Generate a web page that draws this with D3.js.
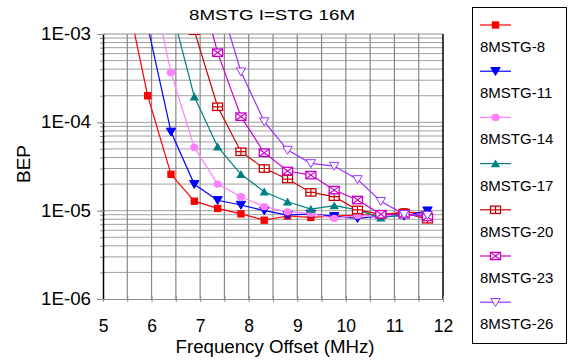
<!DOCTYPE html>
<html>
<head>
<meta charset="utf-8">
<script src="https://cdn.jsdelivr.net/npm/d3@7"></script>
<style>
  body { margin: 0; background: #fff; }
  text { font-family: "Liberation Sans", Arial, sans-serif; }
</style>
</head>
<body>
<div id="chart"></div>
<script>
// frequency offsets (MHz) of the measurement points
const freqs = [5.44, 5.92, 6.40, 6.88, 7.36, 7.84, 8.32, 8.80, 9.28, 9.76, 10.24, 10.72, 11.20, 11.68];

const stg8  = [3.6e-3, 2.0e-4, 2.58e-5, 1.28e-5, 1.06e-5, 9.2e-6, 7.8e-6, 8.7e-6, 8.4e-6, 8.7e-6, 8.9e-6, 8.9e-6, 9.7e-6, 9.3e-6];
const stg11 = [null, 1.23e-3, 7.8e-5, 1.99e-5, 1.31e-5, 1.16e-5, 1.0e-5, 8.9e-6, 9.2e-6, 8.6e-6, 8.2e-6, 8.7e-6, 8.7e-6, 1.0e-5];
const stg14 = [null, 6.2e-3, 3.65e-4, 5.2e-5, 2.0e-5, 1.44e-5, 1.11e-5, 9.7e-6, 9.3e-6, 8.2e-6, 8.8e-6, 8.7e-6, 9.1e-6, 8.9e-6];
const stg17 = [null, null, 2.04e-3, 1.95e-4, 5.3e-5, 2.58e-5, 1.64e-5, 1.26e-5, 1.04e-5, 1.14e-5, 1.02e-5, 8.3e-6, 9.1e-6, 8.7e-6];
const stg20 = [null, null, null, 1.09e-3, 1.5e-4, 4.65e-5, 3.0e-5, 2.28e-5, 1.61e-5, 1.44e-5, 1.02e-5, 9.1e-6, 9.4e-6, 8.0e-6];
const stg23 = [null, null, null, 5.97e-3, 6.15e-4, 1.16e-4, 4.53e-5, 2.81e-5, 2.53e-5, 1.71e-5, 1.32e-5, 9.1e-6, 9.1e-6, 8.5e-6];
const stg26 = [null, null, null, null, 2.84e-3, 3.74e-4, 1.02e-4, 4.86e-5, 3.43e-5, 3.2e-5, 2.26e-5, 1.28e-5, 9.1e-6, 8.9e-6];

const seriesNames = ["8MSTG-8", "8MSTG-11", "8MSTG-14", "8MSTG-17", "8MSTG-20", "8MSTG-23", "8MSTG-26"];
const seriesValues = [stg8, stg11, stg14, stg17, stg20, stg23, stg26];

const xTicks = [5, 6, 7, 8, 9, 10, 11, 12];
const yTickValues = [1e-6, 1e-5, 1e-4, 1e-3];
const yTickLabels = ["1E-06", "1E-05", "1E-04", "1E-03"];

const colors = ["#ff0000", "#0000ff", "#ff80ff", "#008080", "#cc0000", "#cc00cc", "#9933ff"];
const shapes = ["square", "down", "circle", "up", "boxplus", "boxx", "opendown"];

const W = 568, H = 360;
const plot = {left: 103, right: 443, top: 34, bottom: 299};

const svg = d3.select("#chart").append("svg")
  .attr("width", W)
  .attr("height", H);

const x = d3.scaleLinear().domain([5, 12]).range([plot.left, plot.right]);
const y = d3.scaleLog().domain([1e-6, 1e-3]).range([plot.bottom, plot.top]);

// grid
const grid = svg.append("g");
grid.selectAll("line.h")
  .data(y.ticks().filter(d => d > 1e-6 && d < 1e-3))
  .join("line")
  .attr("x1", plot.left).attr("x2", plot.right)
  .attr("y1", d => y(d)).attr("y2", d => y(d))
  .attr("stroke", "#a0a0a0").attr("stroke-width", 1);
grid.selectAll("line.v")
  .data(d3.range(5.5, 12, 0.5))
  .join("line")
  .attr("x1", d => x(d)).attr("x2", d => x(d))
  .attr("y1", plot.top).attr("y2", plot.bottom)
  .attr("stroke", "#888").attr("stroke-width", 1.2);

// top & right borders
svg.append("line").attr("x1", plot.left).attr("x2", plot.right)
  .attr("y1", plot.top).attr("y2", plot.top).attr("stroke", "#8c8c8c");
svg.append("line").attr("x1", plot.right).attr("x2", plot.right)
  .attr("y1", plot.top).attr("y2", plot.bottom).attr("stroke", "#000").attr("stroke-width", 1.5);

// bottom axis
const xAxis = svg.append("g")
  .attr("transform", `translate(0,${plot.bottom})`)
  .call(d3.axisBottom(x)
    .tickValues(d3.range(5, 12.01, 0.5))
    .tickSize(3)
    .tickFormat(d => xTicks.includes(d) ? d : ""));
xAxis.select(".domain").attr("stroke", "#8c8c8c");
xAxis.selectAll(".tick line").attr("y1", -3).attr("y2", 3).attr("stroke", "#8c8c8c");
xAxis.selectAll(".tick text")
  .attr("y", 21)
  .style("font-size", "17.5px")
  .attr("fill", "#000");

// left axis: minor ticks then major ticks with labels
const yMinor = svg.append("g")
  .attr("transform", `translate(${plot.left},0)`)
  .call(d3.axisLeft(y).tickValues(y.ticks()).tickSize(3).tickFormat(""));
yMinor.select(".domain").remove();
yMinor.selectAll(".tick line").attr("x2", -3).attr("x1", 2).attr("stroke", "#8c8c8c");

const yAxis = svg.append("g")
  .attr("transform", `translate(${plot.left},0)`)
  .call(d3.axisLeft(y)
    .tickValues(yTickValues)
    .tickSize(6)
    .tickSizeOuter(0)
    .tickFormat((d, i) => yTickLabels[i]));
yAxis.select(".domain").attr("stroke", "#000").attr("stroke-width", 1.5);
yAxis.selectAll(".tick line").attr("stroke", "#8c8c8c").attr("x1", 2);
yAxis.selectAll(".tick text")
  .attr("x", -12)
  .style("font-size", "17.5px")
  .attr("textLength", 50)
  .attr("lengthAdjust", "spacingAndGlyphs")
  .attr("fill", "#000");

// clip for data
svg.append("clipPath").attr("id", "clip")
  .append("rect")
  .attr("x", plot.left).attr("y", plot.top)
  .attr("width", plot.right - plot.left).attr("height", plot.bottom - plot.top);

function drawMarker(g, shape, color, cx, cy) {
  const s = 3.7;
  if (shape === "square") {
    g.append("rect").attr("x", cx - s).attr("y", cy - s).attr("width", 2 * s).attr("height", 2 * s).attr("fill", color);
  } else if (shape === "circle") {
    g.append("ellipse").attr("cx", cx).attr("cy", cy).attr("rx", 4.2).attr("ry", 3.6).attr("fill", color);
  } else if (shape === "down" || shape === "opendown") {
    const p = [[cx - 4.7, cy - 3.7], [cx + 4.7, cy - 3.7], [cx, cy + 4.2]];
    g.append("path").attr("d", "M" + p.join("L") + "Z")
      .attr("fill", shape === "down" ? color : "#fff")
      .attr("stroke", color).attr("stroke-width", 1);
  } else if (shape === "up") {
    const p = [[cx - 4.7, cy + 3.7], [cx + 4.7, cy + 3.7], [cx, cy - 4.2]];
    g.append("path").attr("d", "M" + p.join("L") + "Z").attr("fill", color);
  } else if (shape === "boxplus" || shape === "boxx") {
    const w = 5, h = 3.7;
    g.append("rect").attr("x", cx - w).attr("y", cy - h).attr("width", 2 * w).attr("height", 2 * h)
      .attr("fill", "#fff").attr("stroke", color).attr("stroke-width", 1.3);
    const d = shape === "boxplus"
      ? `M${cx - w},${cy}H${cx + w}M${cx},${cy - h}V${cy + h}`
      : `M${cx - w},${cy - h}L${cx + w},${cy + h}M${cx - w},${cy + h}L${cx + w},${cy - h}`;
    g.append("path").attr("d", d).attr("stroke", color).attr("stroke-width", 1.2).attr("fill", "none");
  }
}

const dataG = svg.append("g").attr("clip-path", "url(#clip)");
const line = d3.line()
  .defined(d => d[1] != null)
  .x(d => x(d[0]))
  .y(d => y(d[1]));

seriesValues.forEach((vals, i) => {
  const pts = freqs.map((f, j) => [f, vals[j]]);
  dataG.append("path")
    .datum(pts)
    .attr("d", line)
    .attr("fill", "none")
    .attr("stroke", colors[i])
    .attr("stroke-width", 1.2);
});
seriesValues.forEach((vals, i) => {
  const g = dataG.append("g");
  freqs.forEach((f, j) => {
    if (vals[j] != null) drawMarker(g, shapes[i], colors[i], x(f), y(vals[j]));
  });
});

// title and axis titles
svg.append("text")
  .attr("x", 272).attr("y", 20)
  .attr("text-anchor", "middle")
  .style("font-size", "15px")
  .attr("textLength", 166)
  .attr("lengthAdjust", "spacingAndGlyphs")
  .text("8MSTG I=STG 16M");

svg.append("text")
  .attr("x", 275).attr("y", 353)
  .attr("text-anchor", "middle")
  .style("font-size", "17.5px")
  .attr("textLength", 199)
  .attr("lengthAdjust", "spacingAndGlyphs")
  .text("Frequency Offset (MHz)");

svg.append("text")
  .attr("transform", "translate(30,164) rotate(-90)")
  .attr("text-anchor", "middle")
  .style("font-size", "17.5px")
  .attr("textLength", 38)
  .attr("lengthAdjust", "spacingAndGlyphs")
  .text("BEP");

// legend
const legend = svg.append("g");
legend.append("rect")
  .attr("x", 472.5).attr("y", 7.5)
  .attr("width", 94).attr("height", 336)
  .attr("fill", "#fff").attr("stroke", "#000").attr("stroke-width", 1);

seriesNames.forEach((name, i) => {
  const ly = 25 + i * 46.2;
  const g = legend.append("g");
  g.append("line")
    .attr("x1", 480).attr("x2", 511)
    .attr("y1", ly).attr("y2", ly)
    .attr("stroke", colors[i]).attr("stroke-width", 1.2);
  drawMarker(g, shapes[i], colors[i], 495.5, ly);
  g.append("text")
    .attr("x", 480).attr("y", ly + 27)
    .style("font-size", "15px")
    .text(name);
});
</script>
</body>
</html>
